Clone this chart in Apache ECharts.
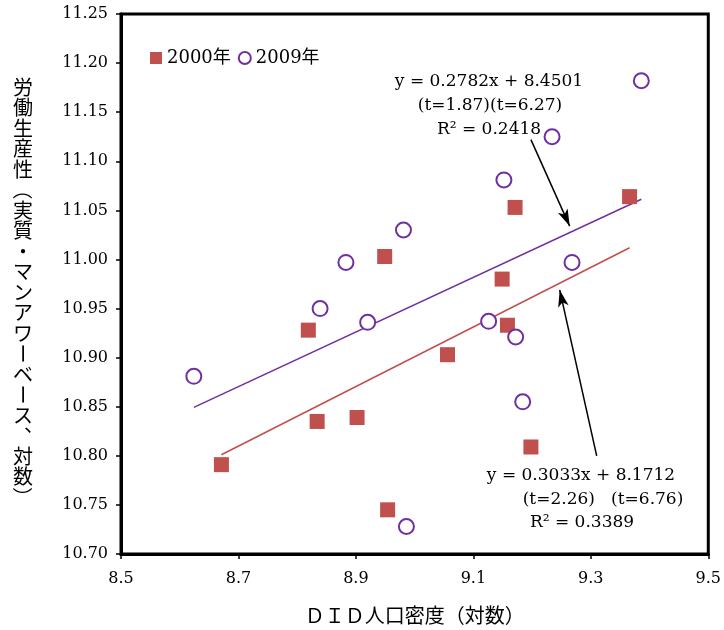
<!DOCTYPE html>
<html>
<head>
<meta charset="utf-8">
<script src="https://cdn.jsdelivr.net/npm/echarts@6/dist/echarts.min.js"></script>
<style>
  html, body { margin: 0; padding: 0; background: #fff; }
  #chart { width: 724px; height: 630px; }
</style>
</head>
<body>
<div id="chart"></div>
<script>
// DID population density (log) vs labour productivity (log), by prefecture
const seriesNames = ['2000年', '2009年'];
const density2000 = [8.671, 8.819, 8.834, 8.902, 8.949, 8.954, 9.056, 9.149, 9.158, 9.171, 9.198, 9.366];
const productivity2000 = [10.791, 10.928, 10.835, 10.839, 11.003, 10.745, 10.903, 10.980, 10.933, 11.053, 10.809, 11.064];
const density2009 = [8.624, 8.839, 8.883, 8.920, 8.981, 8.986, 9.126, 9.152, 9.172, 9.184, 9.234, 9.268, 9.386];
const productivity2009 = [10.881, 10.950, 10.997, 10.936, 11.030, 10.728, 10.937, 11.081, 10.921, 10.855, 11.125, 10.997, 11.182];

// Regression coefficients: [2000, 2009]
const fitSlope = [0.3033, 0.2782];
const fitIntercept = [8.1712, 8.4501];

const xTicks = [8.5, 8.7, 8.9, 9.1, 9.3, 9.5];
const yTicks = [10.70, 10.75, 10.80, 10.85, 10.90, 10.95, 11.00, 11.05, 11.10, 11.15, 11.20, 11.25];

const xTitle = 'ＤＩＤ人口密度（対数）';
const yTitle = '労働生産性（実質・マンアワーベース、対数）';

const eq2009 = ['y = 0.2782x + 8.4501', '(t=1.87)(t=6.27)', 'R² = 0.2418'];
const eq2000 = ['y = 0.3033x + 8.1712', '(t=2.26)   (t=6.76)', 'R² = 0.3389'];

// Arrow endpoints (data space) pointing from each equation to its line
const arrow2009 = [[9.198, 11.122], [9.264, 11.034]];
const arrow2000 = [[9.310, 10.800], [9.247, 10.969]];

const RED = '#C0504D';
const PURPLE = '#7030A0';
const SERIF = '"DejaVu Serif", "Liberation Serif", "Noto Sans CJK JP", serif';

function zip(xs, ys) { return xs.map((x, i) => [x, ys[i]]); }
function fitLine(xs, k) {
  const lo = Math.min(...xs), hi = Math.max(...xs);
  return [[lo, fitIntercept[k] + fitSlope[k] * lo], [hi, fitIntercept[k] + fitSlope[k] * hi]];
}
function arrowMark(pts) {
  return {
    silent: true,
    symbol: ['none', 'arrow'],
    symbolSize: [8, 17],
    label: { show: false },
    lineStyle: { color: '#000', width: 1.5, type: 'solid' },
    emphasis: { disabled: true },
    data: [[{ coord: pts[0] }, { coord: pts[1] }]]
  };
}

// Vertical axis title, one glyph per cell; bracket and long-vowel marks turned upright
const graphics = [];
const rotated = new Set(['（', '）', 'ー']);
Array.from(yTitle).forEach((ch, i) => {
  let dx = 0, dy = 0;
  if (ch === '、') { dx = 11; dy = -11; }
  graphics.push({
    type: 'text',
    x: 23 + dx,
    y: 87 + i * 20.5 + dy,
    rotation: rotated.has(ch) ? -Math.PI / 2 : 0,
    style: {
      text: ch,
      font: '20px "Noto Sans CJK JP", sans-serif',
      fill: '#000',
      textAlign: 'center', align: 'center',
      textVerticalAlign: 'middle', verticalAlign: 'middle'
    }
  });
});

function eqText(text, x, y) {
  return {
    type: 'text', x: x, y: y,
    style: {
      text: text, font: '17px ' + SERIF, fill: '#000',
      textAlign: 'center', align: 'center',
      textVerticalAlign: 'middle', verticalAlign: 'middle'
    }
  };
}
graphics.push(eqText(eq2009[0], 489, 82));
graphics.push(eqText(eq2009[1], 490, 106));
graphics.push(eqText(eq2009[2], 489, 130));
graphics.push(eqText(eq2000[0], 581, 476));
graphics.push(eqText(eq2000[1], 603, 500));
graphics.push(eqText(eq2000[2], 582, 523));

const chart = echarts.init(document.getElementById('chart'), null, { renderer: 'canvas' });
chart.setOption({
  animation: false,
  backgroundColor: '#fff',
  grid: {
    left: 121, right: 14, top: 14, bottom: 76,
    show: true, borderColor: '#000', borderWidth: 3, backgroundColor: '#fff'
  },
  legend: {
    data: seriesNames,
    left: 150, top: 49, padding: 0,
    itemWidth: 12, itemHeight: 12, itemGap: 7,
    selectedMode: false,
    textStyle: { fontFamily: SERIF, fontSize: 18, color: '#000' }
  },
  xAxis: {
    type: 'value', min: 8.5, max: 9.5,
    name: xTitle, nameLocation: 'middle', nameGap: 51,
    nameTextStyle: { fontFamily: '"Noto Sans CJK JP", sans-serif', fontSize: 20, color: '#000' },
    axisLine: { show: true, onZero: false, lineStyle: { color: '#000', width: 3 } },
    axisTick: { show: true, customValues: xTicks, length: 5, lineStyle: { color: '#000', width: 1.5 } },
    axisLabel: {
      customValues: xTicks, margin: 17,
      formatter: v => v.toFixed(1),
      fontFamily: SERIF, fontSize: 16, color: '#000'
    },
    splitLine: { show: false }
  },
  yAxis: {
    type: 'value', min: 10.70, max: 11.25,
    axisLine: { show: true, onZero: false, lineStyle: { color: '#000', width: 3 } },
    axisTick: { show: true, customValues: yTicks, length: 5, lineStyle: { color: '#000', width: 1.5 } },
    axisLabel: {
      customValues: yTicks, margin: 13, padding: [7, 0, 0, 0],
      formatter: v => v.toFixed(2),
      fontFamily: SERIF, fontSize: 16, color: '#000'
    },
    splitLine: { show: false }
  },
  series: [
    {
      name: seriesNames[0], type: 'scatter', z: 4,
      symbol: 'rect', symbolSize: 15,
      itemStyle: { color: RED, opacity: 1 },
      data: zip(density2000, productivity2000)
    },
    {
      name: seriesNames[1], type: 'scatter', z: 4,
      symbol: 'emptyCircle', symbolSize: 15,
      itemStyle: { color: PURPLE, borderWidth: 2, opacity: 1 },
      data: zip(density2009, productivity2009)
    },
    {
      name: 'fit2000', type: 'line', z: 3, silent: true,
      showSymbol: false, symbol: 'none',
      lineStyle: { color: RED, width: 1.5 },
      data: fitLine(density2000, 0),
      markLine: arrowMark(arrow2000)
    },
    {
      name: 'fit2009', type: 'line', z: 3, silent: true,
      showSymbol: false, symbol: 'none',
      lineStyle: { color: PURPLE, width: 1.5 },
      data: fitLine(density2009, 1),
      markLine: arrowMark(arrow2009)
    }
  ],
  graphic: graphics
});
</script>
</body>
</html>
